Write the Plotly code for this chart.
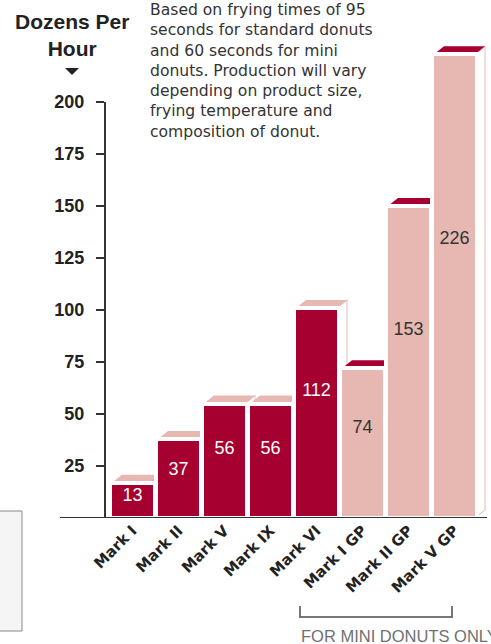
import plotly.graph_objects as go

# ---- data ----
categories = ["Mark I", "Mark II", "Mark V", "Mark IX", "Mark VI", "Mark I GP", "Mark II GP", "Mark V GP"]
bar_heights = [17, 38, 55, 55, 101, 72, 150, 223]      # heights as drawn
label_values = [13, 37, 56, 56, 112, 74, 153, 226]     # values printed on bars
is_mini = [False, False, False, False, False, True, True, True]
y_ticks = [25, 50, 75, 100, 125, 150, 175, 200]

DARK = "#A5002F"
PINK = "#E6B8B1"
EDGE = "#EEC8C2"
AX = "#333333"

# ---- layout geometry ----
W, H = 491, 644
ML, MR, MT, MB = 105, 4, 29, 126
PW, PH = W - ML - MR, H - MT - MB
PITCH = 46.0
PX_Y = 2.08
x_lo = (ML - 132.5) / PITCH
x_hi = x_lo + PW / PITCH
y_hi = PH / PX_Y


def px(x):
    return (x - ML) / PW


def py(y):
    return (H - MB - y) / PH


bar_w = 45 / PITCH
inset_x = 2 / PITCH
dx = 10 / PITCH
dy = 8 / PX_Y

fills = [PINK if m else DARK for m in is_mini]
tops = [DARK if m else PINK for m in is_mini]
txt_cols = ["#333333" if m else "#FFFFFF" for m in is_mini]

shapes = []
# side faces first
for i, h in enumerate(bar_heights):
    xr = i + bar_w / 2 - inset_x
    shapes.append(dict(type="path", layer="below", xref="x", yref="y",
                       path=f"M {xr},0 L {xr+dx},{dy} L {xr+dx},{h+dy} L {xr},{h} Z",
                       fillcolor="white", line=dict(color=EDGE, width=1.2)))
# top faces
for i, h in enumerate(bar_heights):
    xl = i - bar_w / 2 + inset_x
    xr = i + bar_w / 2 - inset_x
    shapes.append(dict(type="path", layer="below", xref="x", yref="y",
                       path=f"M {xl},{h} L {xl+dx},{h+dy} L {xr+dx},{h+dy} L {xr},{h} Z",
                       fillcolor=tops[i], line=dict(width=0)))

# y axis line (0..200) and baseline
shapes.append(dict(type="line", xref="paper", yref="y", x0=0, x1=0, y0=0, y1=max(y_ticks),
                   line=dict(color=AX, width=2)))
shapes.append(dict(type="line", xref="paper", yref="y", x0=px(60), x1=px(487), y0=0, y1=0,
                   line=dict(color=AX, width=2)))
# triangle under title
shapes.append(dict(type="path", xref="paper", yref="paper",
                   path=f"M {px(65)},{py(68)} L {px(79)},{py(68)} L {px(72)},{py(75)} Z",
                   fillcolor="#222222", line=dict(width=0)))
# bottom-left box
shapes.append(dict(type="rect", xref="paper", yref="paper",
                   x0=px(-2), x1=px(22), y0=py(631), y1=py(511),
                   fillcolor="#F5F5F5", line=dict(color="#888888", width=1)))
# bracket for mini donuts
shapes.append(dict(type="path", xref="paper", yref="paper",
                   path=f"M {px(300)},{py(606)} L {px(300)},{py(617)} L {px(452)},{py(617)} L {px(452)},{py(606)}",
                   line=dict(color="#777777", width=2)))

fig = go.Figure()
fig.add_trace(go.Bar(
    x=list(range(len(categories))), y=bar_heights, width=bar_w,
    marker=dict(color=fills, line=dict(color="white", width=4)),
    hoverinfo="skip",
))
fig.add_trace(go.Scatter(
    x=list(range(len(categories))), y=[0.6 * h for h in bar_heights],
    mode="text", text=[str(v) for v in label_values],
    textfont=dict(family="Liberation Sans, Arial", size=18, color=txt_cols),
    hoverinfo="skip", cliponaxis=False,
))

annotations = [
    dict(xref="paper", yref="paper", x=px(72), y=py(35), xanchor="center", yanchor="middle",
         text="<b>Dozens Per<br>Hour</b>", showarrow=False, align="center",
         font=dict(family="Liberation Sans, Arial", size=21, color="#222222")),
    dict(xref="paper", yref="paper", x=px(148), y=py(-1), xanchor="left", yanchor="top",
         text=("Based on frying times of 95<br>seconds for standard donuts<br>and 60 seconds for mini<br>"
               "donuts. Production will vary<br>depending on product size,<br>frying temperature and<br>"
               "composition of donut."),
         showarrow=False, align="left",
         font=dict(family="DejaVu Sans, Verdana", size=15.6, color="#333333")),
    dict(xref="paper", yref="paper", x=px(299), y=py(636), xanchor="left", yanchor="middle",
         text="FOR MINI DONUTS ONLY", showarrow=False,
         font=dict(family="Liberation Sans, Arial", size=16.5, color="#707070")),
]

fig.update_layout(
    width=W, height=H, margin=dict(l=ML, r=MR, t=MT, b=MB, pad=0),
    paper_bgcolor="white", plot_bgcolor="white",
    showlegend=False, bargap=0,
    shapes=shapes, annotations=annotations,
    xaxis=dict(range=[x_lo, x_hi], tickvals=list(range(len(categories))),
               ticktext=[f"<b>{c}</b>" for c in categories], tickangle=-45,
               tickfont=dict(family="DejaVu Sans, Verdana", size=15, color="#222222"),
               showgrid=False, zeroline=False, showline=False, ticks=""),
    yaxis=dict(range=[0, y_hi], tickvals=y_ticks, ticktext=[f"<b>{t}</b>" for t in y_ticks],
               tickfont=dict(family="Liberation Sans, Arial", size=18, color="#222222"),
               ticks="outside", ticklen=8, tickwidth=2, tickcolor=AX, ticklabelstandoff=8,
               showgrid=False, zeroline=False, showline=False),
)

fig.write_html("out.html")
